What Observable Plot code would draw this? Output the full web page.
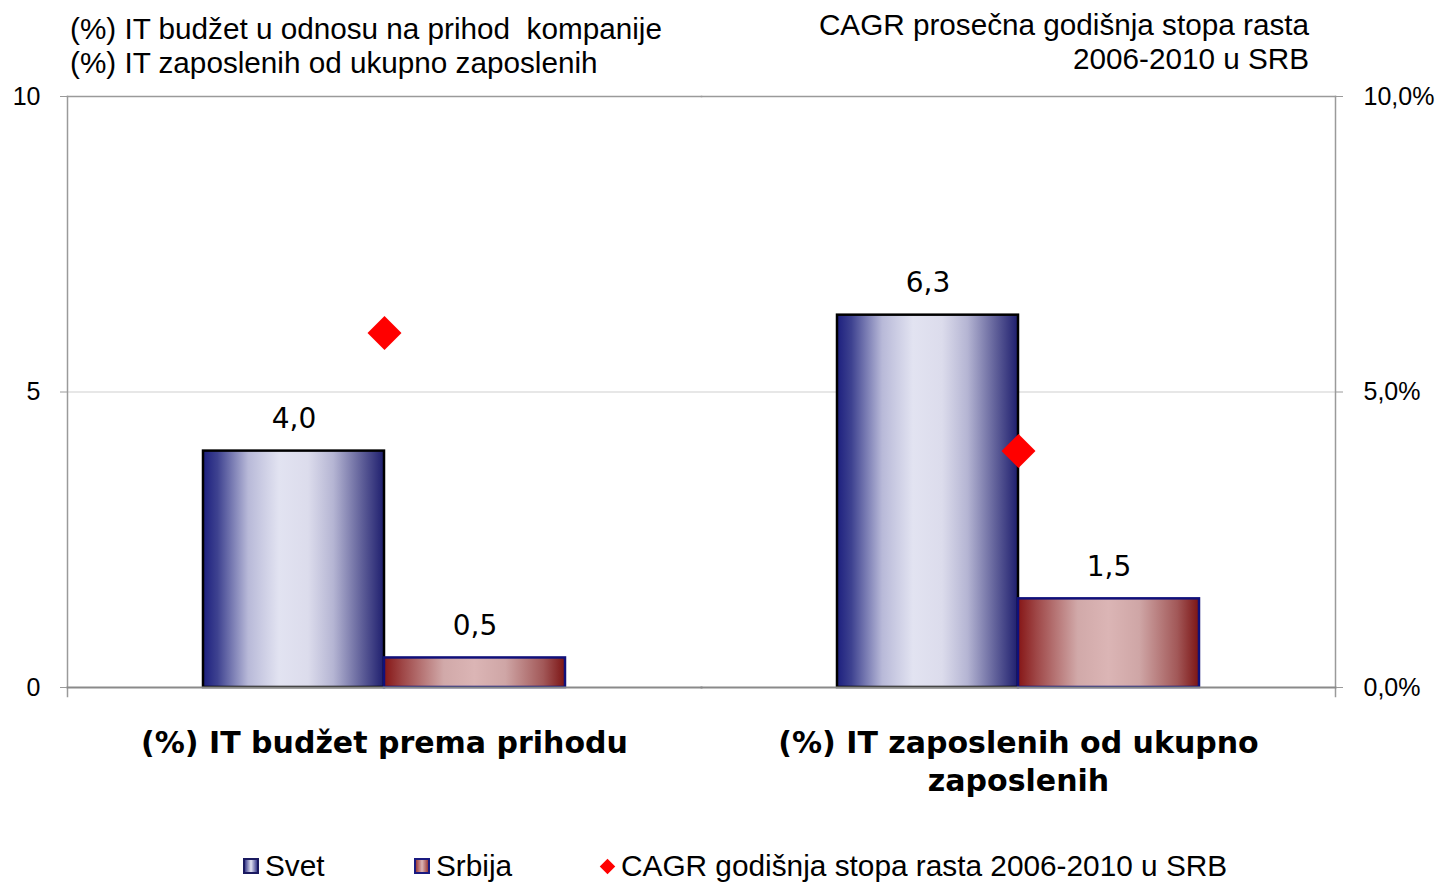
<!DOCTYPE html>
<html>
<head>
<meta charset="utf-8">
<script src="https://cdn.jsdelivr.net/npm/d3@7"></script>
<script src="https://cdn.jsdelivr.net/npm/@observablehq/plot@0.6"></script>
<style>
  body { margin: 0; background: #fff; }
  #wrap { position: relative; width: 1441px; height: 884px; overflow: hidden;
          font-family: "Liberation Sans", Arial, sans-serif; color: #000; }
  #chart { position: absolute; left: 0; top: 0; }
  .t { position: absolute; font-size: 29.7px; line-height: 34px; white-space: nowrap; }
  .leg { position: absolute; top: 849px; font-size: 29.8px; line-height: 34px; white-space: nowrap; display: flex; align-items: center; }
  .sw { display: inline-block; width: 12px; height: 12px; border: 2px solid #1a1a60; margin-right: 6px; }
  .dia { display: inline-block; width: 11px; height: 11px; background: #ff0000; transform: rotate(45deg); margin-right: 8px; margin-left: 2px; }
</style>
</head>
<body>
<div id="wrap">
  <div id="chart"></div>
  <div class="t" style="left:70px; top:12px;">(%) IT budžet u odnosu na prihod&nbsp; kompanije<br>(%) IT zaposlenih od ukupno zaposlenih</div>
  <div class="t" style="right:132px; top:8px; text-align:right;">CAGR prosečna godišnja stopa rasta<br>2006-2010 u SRB</div>
  <div class="leg" style="left:243px;"><span class="sw" style="background:linear-gradient(90deg,#3a3c8c,#e2e3f1 50%,#3a3c8c);"></span>Svet</div>
  <div class="leg" style="left:414px;"><span class="sw" style="border-color:#1a1a80;background:linear-gradient(90deg,#9a3a3a,#dbb5b5 50%,#9a3a3a);"></span>Srbija</div>
  <div class="leg" style="left:600px;"><span class="dia"></span>CAGR godišnja stopa rasta 2006-2010 u SRB</div>
</div>
<script>
// ---- data ----
const categories = ["(%) IT budžet prema prihodu", "(%) IT zaposlenih od ukupno zaposlenih"];
const categoryLabels = ["(%) IT budžet prema prihodu", "(%) IT zaposlenih od ukupno\nzaposlenih"];
const seriesNames = ["Svet", "Srbija"];
const svet = [4.0, 6.3];
const srbija = [0.5, 1.5];
const cagr = [6.0, 4.0];          // % (right axis, 0–10 %)
const yTicks = [0, 5, 10];
const gridValues = [5];

const bars = categories.flatMap((c, i) => [
  {category: c, series: "Svet", value: svet[i]},
  {category: c, series: "Srbija", value: srbija[i]}
]);
const cagrData = categories.map((c, i) => ({category: c, value: cagr[i]}));
const fmt = v => v.toFixed(1).replace(".", ",");

const chart = Plot.plot({
  width: 1441,
  height: 830,
  marginLeft: 67,
  marginRight: 106,
  marginTop: 96,
  marginBottom: 143,
  style: {fontFamily: "'Liberation Sans', Arial, sans-serif", fontSize: "25px", color: "#000", background: "transparent", overflow: "visible"},
  fx: {domain: categories, padding: 0},
  x: {domain: seriesNames, paddingInner: 0, paddingOuter: 0.75, axis: null},
  y: {domain: [0, 10]},
  marks: [
    Plot.ruleY(gridValues, {stroke: "#cfcfcf", strokeWidth: 1.2}),
    Plot.frame({anchor: "top", stroke: "#9a9a9a", strokeWidth: 1.5}),
    Plot.frame({anchor: "left", facetAnchor: "left", stroke: "#9a9a9a", strokeWidth: 1.5, insetBottom: -9}),
    Plot.frame({anchor: "right", facetAnchor: "right", stroke: "#9a9a9a", strokeWidth: 1.5, insetBottom: -9}),
    Plot.barY(bars, {filter: d => d.series === "Svet", fx: "category", x: "series", y: "value",
      fill: "url(#gradSvet)", stroke: "#000", strokeWidth: 2.5}),
    Plot.barY(bars, {filter: d => d.series === "Srbija", fx: "category", x: "series", y: "value",
      fill: "url(#gradSrbija)", stroke: "#10107a", strokeWidth: 2.5}),
    Plot.frame({anchor: "bottom", stroke: "#8a8a8a", strokeWidth: 2}),
    Plot.text(bars, {fx: "category", x: "series", y: "value", text: d => fmt(d.value),
      dy: -32, fontSize: 28, fontFamily: "'DejaVu Sans', Verdana, sans-serif", lineAnchor: "middle", fill: "#000"}),
    Plot.dot(cagrData, {fx: "category", y: "value", symbol: "diamond2", r: 15.3, fill: "#ff0000", stroke: "none"}),
    Plot.axisY({anchor: "left", ticks: yTicks, tickSize: 7, tickPadding: 20, stroke: "#9a9a9a", fill: "#000",
      fontSize: 25, tickFormat: d => String(d), label: null}),
    Plot.axisY({anchor: "right", ticks: yTicks, tickSize: 7, tickPadding: 21, stroke: "#9a9a9a", fill: "#000",
      fontSize: 25, tickFormat: d => fmt(d) + "%", label: null}),
    Plot.axisFx({anchor: "bottom", tickSize: 0, tickPadding: 38, fontSize: 30, fontWeight: "bold",
      fontFamily: "'DejaVu Sans', Verdana, sans-serif", lineHeight: 1.27, fill: "#000",
      tickFormat: c => categoryLabels[categories.indexOf(c)], label: null})
  ]
});

d3.select(chart).insert("defs", ":first-child").html(`
  <linearGradient id="gradSvet" x1="0" x2="1" y1="0" y2="0">
    <stop offset="0" stop-color="#1c1f7e"/>
    <stop offset="0.08" stop-color="#3e4290"/>
    <stop offset="0.25" stop-color="#b8b9d8"/>
    <stop offset="0.42" stop-color="#e2e3f1"/>
    <stop offset="0.58" stop-color="#dcdcec"/>
    <stop offset="0.72" stop-color="#b5b5d3"/>
    <stop offset="0.88" stop-color="#5e5e98"/>
    <stop offset="1" stop-color="#1e1e6e"/>
  </linearGradient>
  <linearGradient id="gradSrbija" x1="0" x2="1" y1="0" y2="0">
    <stop offset="0" stop-color="#861616"/>
    <stop offset="0.1" stop-color="#9e4646"/>
    <stop offset="0.33" stop-color="#d1a9a9"/>
    <stop offset="0.5" stop-color="#dbb5b5"/>
    <stop offset="0.67" stop-color="#cfa6a6"/>
    <stop offset="0.88" stop-color="#a25858"/>
    <stop offset="1" stop-color="#7c1414"/>
  </linearGradient>`);

document.getElementById("chart").appendChild(chart);
</script>
</body>
</html>
